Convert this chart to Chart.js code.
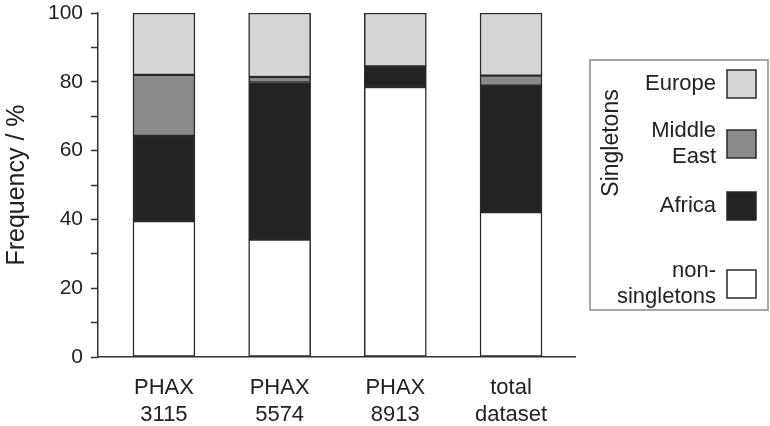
<!DOCTYPE html>
<html>
<head>
<meta charset="utf-8">
<script src="https://cdn.jsdelivr.net/npm/chart.js@4.4.1/dist/chart.umd.min.js"></script>
<style>
  html, body { margin: 0; padding: 0; background: #fff; }
  #wrap { width: 770px; height: 426px; position: relative; }
</style>
</head>
<body>
<div id="wrap"><canvas id="myChart" width="770" height="426"></canvas></div>
<script>
// categories (x labels, two lines each)
const categories = [['PHAX', '3115'], ['PHAX', '5574'], ['PHAX', '8913'], ['total', 'dataset']];

// stacked segments, bottom to top (% of each bar)
const nonSingletons = [39.5, 34.1, 78.5, 42.1];
const africa = [24.8, 45.7, 6.0, 36.8];
const middleEast = [17.7, 1.6, 0, 2.9];
const europe = [18.0, 18.6, 15.5, 18.2];

const yTicks = [0, 20, 40, 60, 80, 100];

const FONT = '"Liberation Sans", Arial, sans-serif';
const INK = '#222';

// bar x positions on a linear index axis
const xPos = categories.map((c, i) => i);
const toPoints = arr => arr.map((v, i) => ({ x: xPos[i], y: v }));

function makeSet(label, values, color) {
    return {
        label: label,
        data: toPoints(values),
        backgroundColor: color,
        borderColor: '#2a2a2a',
        borderWidth: 1.5,
        borderSkipped: false,
        barThickness: 62,
    };
}

// legend drawn by hand to match the boxed "Singletons" key
const boxLegend = {
    id: 'boxLegend',
    afterDraw(chart, args, opts) {
        const ctx = chart.ctx;
        ctx.save();
        ctx.strokeStyle = '#8a8a8a';
        ctx.lineWidth = 1.5;
        ctx.strokeRect(opts.left, opts.top, opts.width, opts.height);

        ctx.fillStyle = INK;
        ctx.font = '23px ' + FONT;
        ctx.textAlign = 'center';
        ctx.textBaseline = 'middle';
        ctx.save();
        ctx.translate(opts.left + 22, opts.titleY);
        ctx.rotate(-Math.PI / 2);
        ctx.fillText('Singletons', 0, 0);
        ctx.restore();

        ctx.font = '22px ' + FONT;
        ctx.textAlign = 'right';
        opts.items.forEach((it, k) => {
            const ds = chart.data.datasets[it.ds];
            const cy = opts.rowY[k];
            const lines = it.text;
            const lh = 26;
            lines.forEach((t, j) => {
                ctx.fillStyle = INK;
                ctx.fillText(t, opts.textRight, cy + (j - (lines.length - 1) / 2) * lh);
            });
            ctx.fillStyle = ds.backgroundColor;
            ctx.fillRect(opts.swatchX, cy - 14, 29, 28);
            ctx.strokeStyle = '#2a2a2a';
            ctx.lineWidth = 1.5;
            ctx.strokeRect(opts.swatchX, cy - 14, 29, 28);
        });
        ctx.restore();
    }
};

const ctx = document.getElementById('myChart').getContext('2d');
const chart = new Chart(ctx, {
    type: 'bar',
    data: {
        datasets: [
            makeSet('non-singletons', nonSingletons, '#ffffff'),
            makeSet('Africa', africa, '#232323'),
            makeSet('Middle East', middleEast, '#8a8a8a'),
            makeSet('Europe', europe, '#d6d6d6'),
        ],
    },
    options: {
        responsive: false,
        animation: false,
        layout: { padding: { left: 0, top: 13, right: 195, bottom: 0 } },
        plugins: {
            legend: { display: false },
            tooltip: { enabled: false },
            boxLegend: {
                left: 590, top: 60, width: 178, height: 250,
                titleY: 143,
                textRight: 716, swatchX: 727,
                rowY: [84, 144, 206, 284],
                items: [
                    { ds: 3, text: ['Europe'] },
                    { ds: 2, text: ['Middle', 'East'] },
                    { ds: 1, text: ['Africa'] },
                    { ds: 0, text: ['non-', 'singletons'] },
                ],
            },
        },
        scales: {
            x: {
                type: 'linear',
                stacked: true,
                offset: false,
                min: -0.57,
                max: 3.553,
                afterBuildTicks: s => { s.ticks = xPos.map(v => ({ value: v })); },
                afterFit: s => { s.height = 69; },
                grid: { display: false, offset: false },
                border: { display: true, color: '#333', width: 1.5 },
                ticks: {
                    callback: (v) => categories[v] || '',
                    color: INK,
                    font: { family: FONT, size: 22, lineHeight: 1.2 },
                    padding: 10,
                    maxRotation: 0,
                    autoSkip: false,
                },
            },
            y: {
                stacked: true,
                min: 0,
                max: 100,
                afterFit: s => {
                    s.width = 98;
                    s.paddingTop = 0;
                    s.paddingBottom = 0;
                },
                afterBuildTicks: s => {
                    const t = [];
                    for (let v = 0; v <= 100; v += 10) t.push({ value: v });
                    s.ticks = t;
                },
                grid: {
                    drawOnChartArea: false,
                    drawTicks: true,
                    tickLength: 7,
                    tickColor: '#333',
                    tickWidth: 1.5,
                },
                border: { display: true, color: '#333', width: 1.5 },
                ticks: {
                    callback: v => yTicks.includes(v) ? v : '',
                    color: INK,
                    font: { family: FONT, size: 21 },
                    padding: 8,
                    autoSkip: false,
                },
                title: {
                    display: true,
                    text: 'Frequency / %',
                    color: INK,
                    font: { family: FONT, size: 25 },
                    padding: { top: 2, bottom: 0 },
                },
            },
        },
    },
    plugins: [boxLegend],
});
</script>
</body>
</html>
